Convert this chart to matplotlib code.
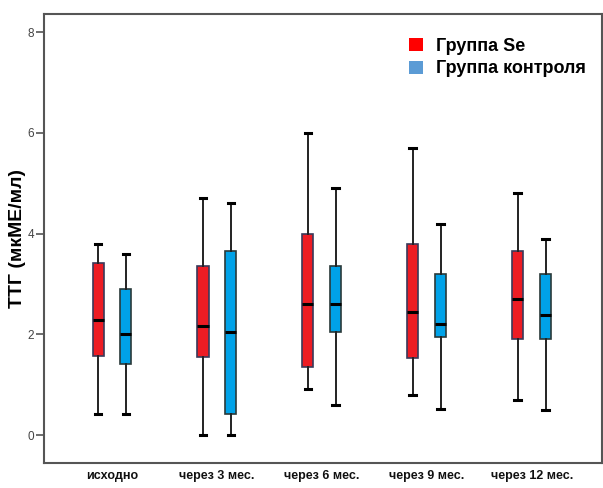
import matplotlib
matplotlib.use("Agg")
import matplotlib.pyplot as plt
from matplotlib.patches import Patch

categories = ["исходно", "через 3 мес.", "через 6 мес.", "через 9 мес.", "через 12 мес."]

# Группа Se
se_low = [0.41, 0.00, 0.91, 0.79, 0.70]
se_q1 = [1.57, 1.55, 1.35, 1.54, 1.90]
se_med = [2.29, 2.16, 2.60, 2.45, 2.71]
se_q3 = [3.41, 3.35, 3.99, 3.79, 3.66]
se_high = [3.80, 4.70, 6.00, 5.71, 4.80]

# Группа контроля
ctl_low = [0.41, 0.00, 0.60, 0.51, 0.50]
ctl_q1 = [1.41, 0.41, 2.05, 1.95, 1.90]
ctl_med = [2.00, 2.05, 2.60, 2.20, 2.39]
ctl_q3 = [2.90, 3.65, 3.35, 3.19, 3.19]
ctl_high = [3.60, 4.60, 4.90, 4.20, 3.90]

y_ticks = [0, 2, 4, 6, 8]
legend_labels = ["Группа Se", "Группа контроля"]

def stats(low, q1, med, q3, high):
    return [dict(whislo=a, q1=b, med=c, q3=d, whishi=e, fliers=[])
            for a, b, c, d, e in zip(low, q1, med, q3, high)]

fig = plt.figure(figsize=(6.03, 4.88), dpi=100)
ax = fig.add_axes([0.073, 0.051, 0.925, 0.920])

pos = list(range(1, len(categories) + 1))
off = 0.133
w = 0.105

def draw(st, positions, color, edge):
    ax.bxp(st, positions=positions, widths=w, patch_artist=True, showfliers=False,
           boxprops=dict(facecolor=color, edgecolor=edge, linewidth=1.2),
           medianprops=dict(color="black", linewidth=2.2),
           whiskerprops=dict(color="#222222", linewidth=1.4),
           capprops=dict(color="black", linewidth=2.2),
           capwidths=0.065)

draw(stats(se_low, se_q1, se_med, se_q3, se_high), [p - off for p in pos], "#ED1C24", "#3a3a5a")
draw(stats(ctl_low, ctl_q1, ctl_med, ctl_q3, ctl_high), [p + off for p in pos], "#00A2E8", "#2a3a3a")

ax.set_xlim(0.352, 5.667)
ax.set_ylim(-0.556, 8.36)
ax.set_xticks(pos)
ax.set_xticklabels(categories, fontsize=9, fontweight="bold", color="#111111",
                   family=["Liberation Sans", "DejaVu Sans"])
ax.tick_params(axis="x", length=0, pad=5)
ax.set_yticks(y_ticks)
ax.set_yticklabels([str(t) for t in y_ticks], fontsize=8.5, color="#444444",
                   family=["Liberation Sans", "DejaVu Sans"])
ax.tick_params(axis="y", length=6, color="#555555", width=1.2, pad=1)
for s in ax.spines.values():
    s.set_color("#555555")
    s.set_linewidth(1.5)

ax.set_ylabel("ТТГ (мкМЕ/мл)", fontsize=14, fontweight="bold",
              family=["Liberation Sans", "DejaVu Sans"])
ax.yaxis.set_label_coords(-0.033, 0.5)

handles = [Patch(facecolor="#FF0000", edgecolor="none"),
           Patch(facecolor="#5B9BD5", edgecolor="none")]
leg = ax.legend(handles, legend_labels, loc="upper left", bbox_to_anchor=(0.632, 0.975),
                frameon=False, handlelength=0.75, handleheight=0.75, handletextpad=0.75,
                labelspacing=0.3, borderaxespad=0.3,
                prop=dict(family="Liberation Sans", weight="bold", size=13))

fig.savefig("out.png", dpi=100)
